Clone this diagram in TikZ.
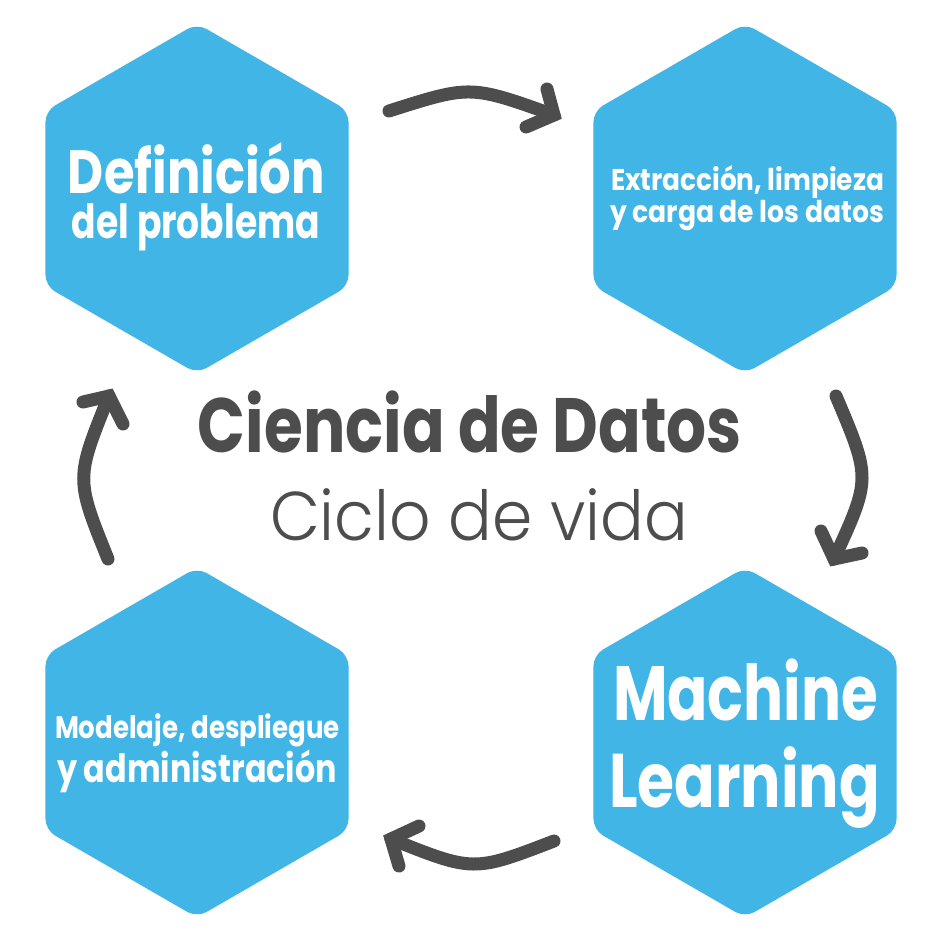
\documentclass[tikz,border=0pt]{standalone}
\usepackage{fontspec}
\usepackage{graphicx}
\usetikzlibrary{shapes.geometric}
\setmainfont{Poppins}
\IfFontExistsTF{Poppins Light}{\newfontfamily\lightfont{Poppins Light}}{\newfontfamily\lightfont{Poppins}}
\definecolor{hexblue}{HTML}{40B5E6}
\definecolor{arrgray}{HTML}{4D4D4D}
\newdimen\fwlen
\newcommand\fitw[2]{\settowidth\fwlen{#2}\scalebox{\fpeval{#1/\fwlen}}[1]{#2}}
\newcommand\fsz[1]{\fontsize{#1}{#1}\selectfont}
\tikzset{
  hexa/.style={regular polygon, regular polygon sides=6, shape border rotate=30,
    minimum size=350pt, inner sep=0pt, fill=hexblue, draw=none, rounded corners=11pt},
  lbl/.style={text=white, inner sep=0pt, outer sep=0pt, anchor=base},
  ttl/.style={text=arrgray, inner sep=0pt, outer sep=0pt, anchor=base},
  shaft/.style={draw=arrgray, line width=13pt, line cap=round},
  headline/.style={draw=arrgray, line width=13pt, line cap=round, line join=miter, miter limit=10}
}
\begin{document}
\begin{tikzpicture}[x=1pt,y=-1pt]
\fill[white] (0,0) rectangle (940,940);
\useasboundingbox (0,0) rectangle (940,940);
% hexagons
\node[hexa] (h1) at (197,198.5) {};
\node[hexa] (h2) at (745,198.5) {};
\node[hexa] (h3) at (745,742.5) {};
\node[hexa] (h4) at (197,742.5) {};
% hexagon texts
\node[lbl, font=\bfseries\fsz{61}] (t1a) at (196.5,193) {\fitw{257pt}{Definición}};
\node[lbl, font=\bfseries\fsz{47}] (t1b) at (196,238) {\fitw{248pt}{del problema}};
\node[lbl, font=\bfseries\fsz{30}] (t2a) at (747.5,190) {\fitw{273pt}{Extracción, limpieza}};
\node[lbl, font=\bfseries\fsz{30}] (t2b) at (747,222) {\fitw{274pt}{y carga de los datos}};
\node[lbl, font=\bfseries\fsz{77}] (t3a) at (745.5,720) {\fitw{265pt}{Machine}};
\node[lbl, font=\bfseries\fsz{76}] (t3b) at (744.5,807) {\fitw{271pt}{Learning}};
\node[lbl, font=\bfseries\fsz{31}] (t4a) at (197.5,738) {\fitw{285pt}{Modelaje, despliegue}};
\node[lbl, font=\bfseries\fsz{39}] (t4b) at (197,782) {\fitw{280pt}{y administración}};
% centre title
\node[ttl, font=\bfseries\fsz{77}] (c1) at (470,452) {\fitw{544pt}{Ciencia de Datos}};
\node[ttl, font=\lightfont\fsz{69}] (c2) at (479,540) {\fitw{418pt}{Ciclo de vida}};
% arrow coordinates
\coordinate (a1s) at (389,111); \coordinate (a1e) at (554,115);
\coordinate (a1l) at (547,89);  \coordinate (a1r) at (526,127);
\coordinate (a2s) at (836,396); \coordinate (a2e) at (834,559);
\coordinate (a2l) at (821,531); \coordinate (a2r) at (862,553);
\coordinate (a3s) at (554,841); \coordinate (a3e) at (391,839);
\coordinate (a3l) at (419,826); \coordinate (a3r) at (399,866);
\coordinate (a4s) at (108,559); \coordinate (a4e) at (109,396);
\coordinate (a4l) at (83,402);  \coordinate (a4r) at (123,424);
% arrows
\draw[shaft] (a1s) .. controls (470.5,85) .. (a1e);
\draw[headline] (a1l) -- (a1e) -- (a1r);
\draw[shaft] (a2s) .. controls (871,478.5) .. (a2e);
\draw[headline] (a2l) -- (a2e) -- (a2r);
\draw[shaft] (a3s) .. controls (473.5,872) .. (a3e);
\draw[headline] (a3l) -- (a3e) -- (a3r);
\draw[shaft] (a4s) .. controls (75.5,478.5) .. (a4e);
\draw[headline] (a4l) -- (a4e) -- (a4r);
\end{tikzpicture}
\end{document}
